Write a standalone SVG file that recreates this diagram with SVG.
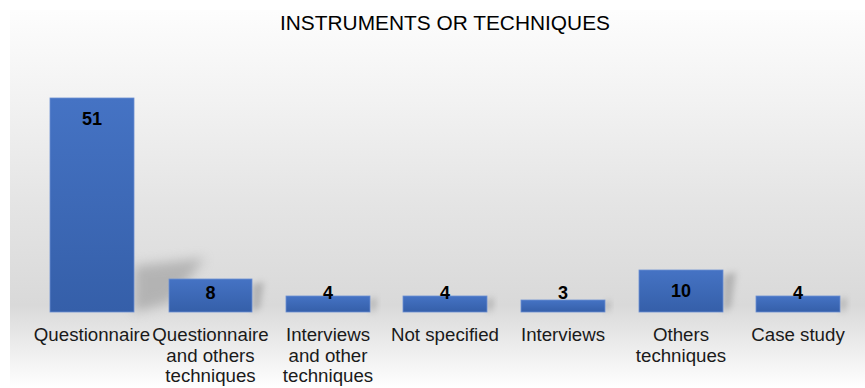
<svg xmlns="http://www.w3.org/2000/svg" width="865" height="388" viewBox="0 0 865 388">
<defs>
<linearGradient id="bg" x1="0" y1="10" x2="0" y2="388" gradientUnits="userSpaceOnUse">
<stop offset="0" stop-color="#fdfdfd"/>
<stop offset="0.24" stop-color="#f2f2f2"/>
<stop offset="0.5" stop-color="#e5e5e5"/>
<stop offset="0.78" stop-color="#d9d9d9"/>
<stop offset="1" stop-color="#ffffff"/>
</linearGradient>
<linearGradient id="bar" x1="0" y1="0" x2="0" y2="1">
<stop offset="0" stop-color="#4573c4"/>
<stop offset="1" stop-color="#355fa9"/>
</linearGradient>
<filter id="blur" x="-50%" y="-50%" width="200%" height="200%">
<feGaussianBlur stdDeviation="6"/>
</filter>
<filter id="blur2" x="-50%" y="-50%" width="200%" height="200%">
<feGaussianBlur stdDeviation="3"/>
</filter>
<style>
.bar{fill:url(#bar);stroke:#6b8fd3;stroke-width:0.8}
.shadow{fill:#8c8c8c;opacity:0.5}
.val{font-family:"Liberation Sans",Arial,sans-serif;font-size:18px;font-weight:bold;fill:#000;text-anchor:middle}
.lab{font-family:"Liberation Sans",Arial,sans-serif;font-size:18.7px;fill:#1a1a1a;text-anchor:middle}
.title{font-family:"Liberation Sans",Arial,sans-serif;font-size:20px;fill:#000;text-anchor:middle}
</style>
</defs>
<rect x="10" y="10" width="855" height="378" fill="url(#bg)"/>
<text class="title" x="445" y="30" textLength="330" lengthAdjust="spacingAndGlyphs">INSTRUMENTS OR TECHNIQUES</text>
<g id="shadows">
<polygon class="shadow" filter="url(#blur)" points="134,312 134,266 205,258 170,302"/>
<polygon class="shadow" filter="url(#blur2)" points="252,312 252,284 264,282 260,308"/>
<polygon class="shadow" filter="url(#blur2)" points="370,312 370,299 377,298 375,310"/>
<polygon class="shadow" filter="url(#blur2)" points="487,312 487,299 494,298 492,310"/>
<polygon class="shadow" filter="url(#blur2)" points="605,312 605,302 611,301 609,310"/>
<polygon class="shadow" filter="url(#blur2)" points="723,312 723,275 736,272 731,307"/>
<polygon class="shadow" filter="url(#blur2)" points="840,312 840,299 847,298 845,310"/>
</g>
<g id="n1"><rect class="bar" x="50" y="98" width="84" height="214"/><text class="val" x="92" y="125">51</text><text class="lab" x="92" y="341">Questionnaire</text></g>
<g id="n2"><rect class="bar" x="169" y="279" width="83" height="33"/><text class="val" x="210.5" y="299">8</text><text class="lab" x="210.5" y="341">Questionnaire</text><text class="lab" x="210.5" y="362">and others</text><text class="lab" x="210.5" y="382">techniques</text></g>
<g id="n3"><rect class="bar" x="286" y="296" width="84" height="16"/><text class="val" x="328" y="299">4</text><text class="lab" x="328" y="341">Interviews</text><text class="lab" x="328" y="362">and other</text><text class="lab" x="328" y="382">techniques</text></g>
<g id="n4"><rect class="bar" x="403" y="296" width="84" height="16"/><text class="val" x="445" y="299">4</text><text class="lab" x="445" y="341">Not specified</text></g>
<g id="n5"><rect class="bar" x="521" y="300" width="84" height="12"/><text class="val" x="563" y="299">3</text><text class="lab" x="563" y="341">Interviews</text></g>
<g id="n6"><rect class="bar" x="639" y="270" width="84" height="42"/><text class="val" x="681" y="297">10</text><text class="lab" x="681" y="341">Others</text><text class="lab" x="681" y="362">techniques</text></g>
<g id="n7"><rect class="bar" x="756" y="296" width="84" height="16"/><text class="val" x="798" y="299">4</text><text class="lab" x="798" y="341">Case study</text></g>
<g id="connectors"></g>
</svg>
